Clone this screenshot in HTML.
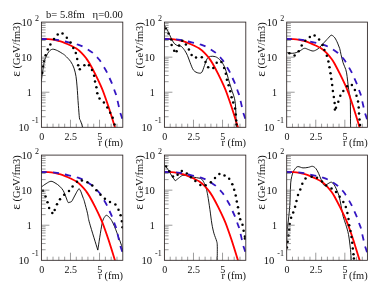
<!DOCTYPE html>
<html><head><meta charset="utf-8"><title>plot</title>
<style>
html,body{margin:0;padding:0;background:#fff;}
body{width:375px;height:294px;overflow:hidden;}
svg{display:block;will-change:transform;}
text{font-family:"Liberation Serif",serif;fill:#111;}
.t{font-size:10px;}
.e{font-size:8px;}
.l{font-size:10.4px;}
.h{font-size:10.2px;}
</style></head><body>
<svg width="375" height="294" viewBox="0 0 375 294">
<rect width="375" height="294" fill="#fff"/>
<text x="46.1" y="17.7" class="h" style="font-size:10.5px">b= 5.8fm</text>
<text x="92.6" y="17.7" class="h" style="font-size:10.7px">η=0.00</text>
<g transform="translate(0.0,0.0)">
<clipPath id="c0"><rect x="41.4" y="22.1" width="81.4" height="105.2"/></clipPath>
<g clip-path="url(#c0)">
<path d="M41.4,81.0 C41.5,79.8 41.9,76.5 42.3,74.0 C42.6,71.5 43.1,68.3 43.5,66.0 C43.9,63.6 44.2,61.6 44.7,59.9 C45.2,58.2 45.9,57.0 46.6,55.6 C47.3,54.2 48.0,52.6 49.0,51.5 C50.0,50.4 51.3,49.3 52.7,49.2 C54.1,49.1 56.0,50.0 57.6,50.7 C59.2,51.4 61.2,52.8 62.5,53.6 C63.8,54.4 63.9,54.3 65.2,55.6 C66.5,56.9 69.1,59.3 70.6,61.4 C72.1,63.5 73.1,65.7 74.0,68.2 C74.9,70.7 75.5,73.5 76.0,76.4 C76.5,79.4 76.7,82.7 77.0,85.9 C77.3,89.1 77.5,92.1 77.7,95.4 C77.9,98.7 78.1,101.9 78.4,105.6 C78.7,109.3 79.1,115.3 79.4,117.8 C79.7,120.3 79.8,118.9 80.4,120.5 C81.0,122.1 82.4,126.2 82.8,127.3" fill="none" stroke="#000" stroke-width="0.9" stroke-linejoin="round"/>
<path d="M41.4,39.0 C42.5,39.0 46.1,39.0 48.2,39.1 C50.4,39.2 52.4,39.5 54.3,39.9 C56.2,40.2 57.9,40.7 59.7,41.2 C61.5,41.7 63.4,42.4 65.2,43.1 C67.0,43.8 68.8,44.6 70.6,45.5 C72.4,46.4 74.2,47.1 76.0,48.3 C77.8,49.5 79.8,51.1 81.5,52.8 C83.2,54.5 84.9,56.5 86.2,58.3 C87.5,60.1 88.1,60.9 89.6,63.5 C91.1,66.1 93.2,70.1 95.0,73.7 C96.8,77.3 99.0,81.9 100.5,85.2 C102.0,88.5 102.7,90.2 104.0,93.8 C105.3,97.4 106.8,101.5 108.6,107.0 C110.4,112.5 113.5,122.6 114.7,126.6 C115.9,130.6 115.8,130.3 116.0,131.0" fill="none" stroke="#f00" stroke-width="1.85"/>
<path d="M41.5,39.0 C43.8,39.1 51.1,39.2 55.0,39.6 C58.9,40.0 62.2,40.9 65.0,41.5 C67.8,42.1 69.9,42.5 72.0,43.0 C74.1,43.5 75.6,43.9 77.4,44.5 C79.2,45.1 81.1,45.7 82.8,46.5 C84.5,47.3 85.8,48.1 87.5,49.2 C89.2,50.3 91.5,51.8 93.0,53.0 C94.5,54.2 95.3,55.2 96.4,56.4 C97.5,57.6 98.5,58.5 99.8,60.3 C101.0,62.1 102.7,64.9 103.9,67.0 C105.2,69.1 106.4,71.2 107.3,73.0 C108.2,74.8 108.5,75.7 109.3,77.6 C110.2,79.5 111.5,82.3 112.4,84.5 C113.3,86.7 113.9,88.8 114.5,90.5 C115.1,92.2 115.6,93.2 116.1,94.7 C116.5,96.2 116.8,97.6 117.2,99.5 C117.7,101.4 118.3,104.1 118.8,106.3 C119.3,108.5 119.6,110.4 120.2,112.4 C120.8,114.4 121.7,116.6 122.2,118.5 C122.8,120.4 123.3,123.1 123.5,124.0" fill="none" stroke="#3416c2" stroke-width="1.8" stroke-dasharray="6.1 6.1" stroke-dashoffset="0.8"/>
<circle cx="42.3" cy="72.8" r="1.25" fill="#000"/>
<circle cx="43.1" cy="66.6" r="1.25" fill="#000"/>
<circle cx="44.1" cy="61.0" r="1.25" fill="#000"/>
<circle cx="45.6" cy="55.2" r="1.25" fill="#000"/>
<circle cx="47.8" cy="49.5" r="1.25" fill="#000"/>
<circle cx="50.4" cy="44.4" r="1.25" fill="#000"/>
<circle cx="54.0" cy="39.0" r="1.25" fill="#000"/>
<circle cx="57.7" cy="34.5" r="1.25" fill="#000"/>
<circle cx="62.5" cy="33.6" r="1.25" fill="#000"/>
<circle cx="66.8" cy="37.7" r="1.25" fill="#000"/>
<circle cx="70.6" cy="42.4" r="1.25" fill="#000"/>
<circle cx="73.3" cy="47.9" r="1.25" fill="#000"/>
<circle cx="75.8" cy="53.0" r="1.25" fill="#000"/>
<circle cx="77.2" cy="58.9" r="1.25" fill="#000"/>
<circle cx="78.2" cy="65.2" r="1.25" fill="#000"/>
<circle cx="79.8" cy="69.2" r="1.25" fill="#000"/>
<circle cx="84.4" cy="65.2" r="1.25" fill="#000"/>
<circle cx="88.9" cy="65.2" r="1.25" fill="#000"/>
<circle cx="92.0" cy="70.0" r="1.25" fill="#000"/>
<circle cx="94.1" cy="75.7" r="1.25" fill="#000"/>
<circle cx="95.0" cy="81.4" r="1.25" fill="#000"/>
<circle cx="96.4" cy="87.3" r="1.25" fill="#000"/>
<circle cx="97.3" cy="93.3" r="1.25" fill="#000"/>
<circle cx="99.5" cy="98.4" r="1.25" fill="#000"/>
<circle cx="103.9" cy="102.6" r="1.25" fill="#000"/>
<circle cx="107.3" cy="107.6" r="1.25" fill="#000"/>
<circle cx="110.2" cy="112.7" r="1.25" fill="#000"/>
<circle cx="112.7" cy="117.8" r="1.25" fill="#000"/>
<circle cx="114.5" cy="124.6" r="1.25" fill="#000"/>
</g>
<path d="M41.4,116.74h4.2 M41.4,110.57h4.2 M41.4,106.19h4.2 M41.4,102.79h4.2 M41.4,100.01h4.2 M41.4,97.67h4.2 M41.4,95.63h4.2 M41.4,93.84h4.2 M41.4,92.23h8.0 M41.4,81.68h4.2 M41.4,75.50h4.2 M41.4,71.12h4.2 M41.4,67.72h4.2 M41.4,64.95h4.2 M41.4,62.60h4.2 M41.4,60.56h4.2 M41.4,58.77h4.2 M41.4,57.17h8.0 M41.4,46.61h4.2 M41.4,40.44h4.2 M41.4,36.05h4.2 M41.4,32.66h4.2 M41.4,29.88h4.2 M41.4,27.53h4.2 M41.4,25.50h4.2 M41.4,23.70h4.2 M47.21,127.3v-3.6 M53.03,127.3v-3.6 M58.84,127.3v-3.6 M64.66,127.3v-3.6 M70.47,127.3v-7.6 M76.29,127.3v-3.6 M82.10,127.3v-3.6 M87.91,127.3v-3.6 M93.73,127.3v-3.6 M99.54,127.3v-7.6 M105.36,127.3v-3.6 M111.17,127.3v-3.6 M116.99,127.3v-3.6" stroke="#666" stroke-width="0.65" fill="none"/>
<rect x="41.4" y="22.1"  width="81.4" height="105.2" fill="none" stroke="#2a2222" stroke-width="0.85"/>
<text x="21.4" y="26.1" textLength="10.7" lengthAdjust="spacingAndGlyphs" class="t">10</text>
<text x="35.0" y="20.8" class="e">2</text>
<text x="21.2" y="61.0" textLength="10.7" lengthAdjust="spacingAndGlyphs" class="t">10</text>
<text x="31.7" y="95.7" text-anchor="end" class="t">1</text>
<text x="18.4" y="131.3" textLength="10.7" lengthAdjust="spacingAndGlyphs" class="t">10</text>
<text x="32.0" y="123.0" class="e">-1</text>
<text x="41.8" y="139.7" text-anchor="middle" class="t">0</text>
<text x="70.8" y="139.7" text-anchor="middle" class="t">2.5</text>
<text x="99.7" y="139.5" text-anchor="middle" class="t">5</text>
<text x="123.0" y="145.9" text-anchor="end" class="l">r (fm)</text>
<text transform="translate(19.6,22.3) rotate(-90)" text-anchor="end" class="l"><tspan font-size="13.5">ε</tspan> (GeV/fm3)</text>
</g><g transform="translate(123.0,0.0)">
<clipPath id="c1"><rect x="41.4" y="22.1" width="81.4" height="105.2"/></clipPath>
<g clip-path="url(#c1)">
<path d="M41.4,25.4 C41.9,26.1 43.3,28.0 44.1,29.5 C44.9,31.0 45.6,32.6 46.4,34.3 C47.2,36.0 48.0,38.1 48.9,39.7 C49.8,41.3 50.6,42.8 51.6,43.8 C52.6,44.8 53.9,45.3 55.0,45.8 C56.1,46.2 57.3,45.7 58.4,46.5 C59.5,47.3 60.8,49.1 61.8,50.6 C62.8,52.1 63.6,53.6 64.5,55.6 C65.4,57.6 66.2,60.3 67.2,62.8 C68.2,65.2 69.2,68.6 70.6,70.3 C72.0,72.0 74.0,72.7 75.4,73.0 C76.8,73.3 77.8,73.5 78.8,72.3 C79.8,71.0 80.6,67.8 81.5,65.5 C82.4,63.2 83.2,60.2 84.2,58.7 C85.2,57.2 86.1,56.7 87.5,56.4 C88.9,56.1 90.8,56.2 92.3,56.7 C93.8,57.2 95.0,58.0 96.4,59.4 C97.8,60.8 99.2,62.4 100.5,64.8 C101.8,67.2 102.9,70.6 103.9,73.7 C104.9,76.8 105.7,80.2 106.6,83.2 C107.5,86.2 108.5,89.0 109.3,91.6 C110.1,94.2 111.0,96.0 111.6,98.8 C112.2,101.6 112.5,104.9 112.7,108.3 C112.9,111.7 112.9,116.1 113.0,119.2 C113.1,122.3 113.3,125.7 113.4,127.0" fill="none" stroke="#000" stroke-width="0.9" stroke-linejoin="round"/>
<path d="M41.4,39.0 C42.5,39.0 46.1,39.0 48.2,39.1 C50.4,39.2 52.4,39.5 54.3,39.9 C56.2,40.2 57.9,40.7 59.7,41.2 C61.5,41.7 63.4,42.4 65.2,43.1 C67.0,43.8 68.8,44.6 70.6,45.5 C72.4,46.4 74.2,47.1 76.0,48.3 C77.8,49.5 79.8,51.1 81.5,52.8 C83.2,54.5 84.9,56.5 86.2,58.3 C87.5,60.1 88.1,60.9 89.6,63.5 C91.1,66.1 93.2,70.1 95.0,73.7 C96.8,77.3 99.0,81.9 100.5,85.2 C102.0,88.5 102.7,90.2 104.0,93.8 C105.3,97.4 106.8,101.5 108.6,107.0 C110.4,112.5 113.5,122.6 114.7,126.6 C115.9,130.6 115.8,130.3 116.0,131.0" fill="none" stroke="#f00" stroke-width="1.85"/>
<path d="M41.5,39.0 C43.8,39.1 51.1,39.2 55.0,39.6 C58.9,40.0 62.2,40.9 65.0,41.5 C67.8,42.1 69.9,42.5 72.0,43.0 C74.1,43.5 75.6,43.9 77.4,44.5 C79.2,45.1 81.1,45.7 82.8,46.5 C84.5,47.3 85.8,48.1 87.5,49.2 C89.2,50.3 91.5,51.8 93.0,53.0 C94.5,54.2 95.3,55.2 96.4,56.4 C97.5,57.6 98.5,58.5 99.8,60.3 C101.0,62.1 102.7,64.9 103.9,67.0 C105.2,69.1 106.4,71.2 107.3,73.0 C108.2,74.8 108.5,75.7 109.3,77.6 C110.2,79.5 111.5,82.3 112.4,84.5 C113.3,86.7 113.9,88.8 114.5,90.5 C115.1,92.2 115.6,93.2 116.1,94.7 C116.5,96.2 116.8,97.6 117.2,99.5 C117.7,101.4 118.3,104.1 118.8,106.3 C119.3,108.5 119.6,110.4 120.2,112.4 C120.8,114.4 121.7,116.6 122.2,118.5 C122.8,120.4 123.3,123.1 123.5,124.0" fill="none" stroke="#3416c2" stroke-width="1.8" stroke-dasharray="6.1 6.1" stroke-dashoffset="0.8"/>
<circle cx="42.8" cy="28.4" r="1.25" fill="#000"/>
<circle cx="45.5" cy="33.6" r="1.25" fill="#000"/>
<circle cx="48.2" cy="39.4" r="1.25" fill="#000"/>
<circle cx="48.6" cy="45.1" r="1.25" fill="#000"/>
<circle cx="51.2" cy="50.8" r="1.25" fill="#000"/>
<circle cx="53.6" cy="51.3" r="1.25" fill="#000"/>
<circle cx="56.1" cy="45.5" r="1.25" fill="#000"/>
<circle cx="59.3" cy="40.7" r="1.25" fill="#000"/>
<circle cx="62.9" cy="44.5" r="1.25" fill="#000"/>
<circle cx="65.9" cy="49.5" r="1.25" fill="#000"/>
<circle cx="68.6" cy="55.1" r="1.25" fill="#000"/>
<circle cx="73.0" cy="57.5" r="1.25" fill="#000"/>
<circle cx="78.8" cy="57.2" r="1.25" fill="#000"/>
<circle cx="82.5" cy="62.1" r="1.25" fill="#000"/>
<circle cx="85.2" cy="67.3" r="1.25" fill="#000"/>
<circle cx="90.3" cy="68.0" r="1.25" fill="#000"/>
<circle cx="93.7" cy="62.8" r="1.25" fill="#000"/>
<circle cx="98.4" cy="62.1" r="1.25" fill="#000"/>
<circle cx="101.1" cy="68.0" r="1.25" fill="#000"/>
<circle cx="102.8" cy="73.7" r="1.25" fill="#000"/>
<circle cx="103.9" cy="79.8" r="1.25" fill="#000"/>
<circle cx="105.6" cy="85.2" r="1.25" fill="#000"/>
<circle cx="107.3" cy="91.3" r="1.25" fill="#000"/>
<circle cx="108.6" cy="97.2" r="1.25" fill="#000"/>
<circle cx="110.2" cy="102.6" r="1.25" fill="#000"/>
<circle cx="112.0" cy="108.6" r="1.25" fill="#000"/>
<circle cx="112.7" cy="114.4" r="1.25" fill="#000"/>
<circle cx="113.2" cy="120.5" r="1.25" fill="#000"/>
<circle cx="113.5" cy="124.6" r="1.25" fill="#000"/>
</g>
<path d="M41.4,116.74h4.2 M41.4,110.57h4.2 M41.4,106.19h4.2 M41.4,102.79h4.2 M41.4,100.01h4.2 M41.4,97.67h4.2 M41.4,95.63h4.2 M41.4,93.84h4.2 M41.4,92.23h8.0 M41.4,81.68h4.2 M41.4,75.50h4.2 M41.4,71.12h4.2 M41.4,67.72h4.2 M41.4,64.95h4.2 M41.4,62.60h4.2 M41.4,60.56h4.2 M41.4,58.77h4.2 M41.4,57.17h8.0 M41.4,46.61h4.2 M41.4,40.44h4.2 M41.4,36.05h4.2 M41.4,32.66h4.2 M41.4,29.88h4.2 M41.4,27.53h4.2 M41.4,25.50h4.2 M41.4,23.70h4.2 M47.21,127.3v-3.6 M53.03,127.3v-3.6 M58.84,127.3v-3.6 M64.66,127.3v-3.6 M70.47,127.3v-7.6 M76.29,127.3v-3.6 M82.10,127.3v-3.6 M87.91,127.3v-3.6 M93.73,127.3v-3.6 M99.54,127.3v-7.6 M105.36,127.3v-3.6 M111.17,127.3v-3.6 M116.99,127.3v-3.6" stroke="#666" stroke-width="0.65" fill="none"/>
<rect x="41.4" y="22.1"  width="81.4" height="105.2" fill="none" stroke="#2a2222" stroke-width="0.85"/>
<text x="21.4" y="26.1" textLength="10.7" lengthAdjust="spacingAndGlyphs" class="t">10</text>
<text x="35.0" y="20.8" class="e">2</text>
<text x="21.2" y="61.0" textLength="10.7" lengthAdjust="spacingAndGlyphs" class="t">10</text>
<text x="31.7" y="95.7" text-anchor="end" class="t">1</text>
<text x="18.4" y="131.3" textLength="10.7" lengthAdjust="spacingAndGlyphs" class="t">10</text>
<text x="32.0" y="123.0" class="e">-1</text>
<text x="41.8" y="139.7" text-anchor="middle" class="t">0</text>
<text x="70.8" y="139.7" text-anchor="middle" class="t">2.5</text>
<text x="99.7" y="139.5" text-anchor="middle" class="t">5</text>
<text x="123.0" y="145.9" text-anchor="end" class="l">r (fm)</text>
<text transform="translate(19.6,22.3) rotate(-90)" text-anchor="end" class="l"><tspan font-size="13.5">ε</tspan> (GeV/fm3)</text>
</g><g transform="translate(245.3,0.0)">
<clipPath id="c2"><rect x="41.4" y="22.1" width="80.7" height="105.2"/></clipPath>
<g clip-path="url(#c2)">
<path d="M41.4,52.6 C42.3,52.7 45.3,53.3 46.9,53.3 C48.5,53.3 49.5,53.0 50.9,52.6 C52.2,52.2 53.6,51.3 55.0,50.6 C56.4,49.9 57.7,48.5 59.1,48.3 C60.5,48.1 61.7,49.1 63.2,49.6 C64.7,50.1 66.3,51.1 67.9,51.0 C69.5,50.9 71.2,49.8 72.7,48.8 C74.2,47.8 75.2,46.3 76.7,44.8 C78.2,43.3 80.0,41.2 81.5,39.6 C83.0,38.0 85.0,35.9 85.7,35.1" fill="none" stroke="#000" stroke-width="0.9" stroke-linejoin="round"/>
<path d="M85.7,35.1 C85.9,35.2 86.5,35.1 87.2,35.6 C87.8,36.1 88.7,36.6 89.6,37.9 C90.4,39.1 91.5,41.3 92.3,43.1 C93.1,44.9 93.8,46.6 94.4,48.5 C95.0,50.4 95.1,52.1 95.7,54.5 C96.3,56.9 97.0,60.3 97.8,62.8 C98.6,65.3 99.8,67.3 100.5,69.6 C101.2,71.9 101.4,73.7 101.8,76.4 C102.2,79.1 102.5,83.2 102.9,85.9 C103.2,88.6 103.5,90.2 103.9,92.5 C104.2,94.8 104.8,94.2 105.0,100.0 C105.2,105.8 105.2,122.8 105.2,127.3" fill="none" stroke="#000" stroke-width="0.9" stroke-linejoin="round"/>
<path d="M41.4,39.0 C42.5,39.0 46.0,39.0 48.1,39.1 C50.3,39.2 52.3,39.5 54.2,39.9 C56.1,40.2 57.7,40.7 59.5,41.2 C61.3,41.7 63.2,42.4 65.0,43.1 C66.8,43.8 68.6,44.6 70.3,45.5 C72.1,46.4 73.9,47.1 75.7,48.3 C77.5,49.5 79.5,51.1 81.2,52.8 C82.8,54.5 84.5,56.5 85.8,58.3 C87.2,60.1 87.7,60.9 89.2,63.5 C90.6,66.1 92.7,70.1 94.5,73.7 C96.3,77.3 98.5,81.9 100.0,85.2 C101.5,88.5 102.1,90.2 103.5,93.8 C104.8,97.4 106.3,101.5 108.0,107.0 C109.8,112.5 112.8,122.6 114.1,126.6 C115.3,130.6 115.1,130.3 115.4,131.0" fill="none" stroke="#f00" stroke-width="1.85"/>
<path d="M41.5,39.0 C43.7,39.1 51.0,39.2 54.9,39.6 C58.8,40.0 62.0,40.9 64.8,41.5 C67.6,42.1 69.7,42.5 71.7,43.0 C73.8,43.5 75.3,43.9 77.1,44.5 C78.9,45.1 80.8,45.7 82.4,46.5 C84.1,47.3 85.4,48.1 87.1,49.2 C88.8,50.3 91.1,51.8 92.6,53.0 C94.0,54.2 94.8,55.2 95.9,56.4 C97.1,57.6 98.1,58.5 99.3,60.3 C100.5,62.1 102.1,64.9 103.4,67.0 C104.6,69.1 105.8,71.2 106.7,73.0 C107.6,74.8 107.9,75.7 108.7,77.6 C109.6,79.5 110.9,82.3 111.8,84.5 C112.6,86.7 113.3,88.8 113.9,90.5 C114.5,92.2 115.0,93.2 115.5,94.7 C115.9,96.2 116.1,97.6 116.5,99.5 C117.0,101.4 117.6,104.1 118.1,106.3 C118.6,108.5 119.0,110.4 119.5,112.4 C120.1,114.4 121.0,116.6 121.5,118.5 C122.1,120.4 122.6,123.1 122.8,124.0" fill="none" stroke="#3416c2" stroke-width="1.8" stroke-dasharray="6.1 6.1" stroke-dashoffset="0.8"/>
<circle cx="44.1" cy="53.3" r="1.25" fill="#000"/>
<circle cx="49.3" cy="55.6" r="1.25" fill="#000"/>
<circle cx="53.4" cy="51.3" r="1.25" fill="#000"/>
<circle cx="56.4" cy="45.5" r="1.25" fill="#000"/>
<circle cx="60.0" cy="40.8" r="1.25" fill="#000"/>
<circle cx="64.5" cy="37.0" r="1.25" fill="#000"/>
<circle cx="69.3" cy="35.4" r="1.25" fill="#000"/>
<circle cx="73.8" cy="39.4" r="1.25" fill="#000"/>
<circle cx="77.2" cy="44.9" r="1.25" fill="#000"/>
<circle cx="79.1" cy="49.9" r="1.25" fill="#000"/>
<circle cx="81.5" cy="55.8" r="1.25" fill="#000"/>
<circle cx="83.1" cy="61.4" r="1.25" fill="#000"/>
<circle cx="84.2" cy="67.3" r="1.25" fill="#000"/>
<circle cx="85.2" cy="73.3" r="1.25" fill="#000"/>
<circle cx="86.1" cy="79.1" r="1.25" fill="#000"/>
<circle cx="86.9" cy="84.9" r="1.25" fill="#000"/>
<circle cx="87.6" cy="91.0" r="1.25" fill="#000"/>
<circle cx="88.5" cy="97.0" r="1.25" fill="#000"/>
<circle cx="89.3" cy="102.9" r="1.25" fill="#000"/>
<circle cx="89.6" cy="109.4" r="1.25" fill="#000"/>
<circle cx="90.7" cy="107.8" r="1.25" fill="#000"/>
<circle cx="93.0" cy="101.8" r="1.25" fill="#000"/>
<circle cx="95.0" cy="95.8" r="1.25" fill="#000"/>
<circle cx="98.0" cy="91.0" r="1.25" fill="#000"/>
<circle cx="101.8" cy="86.2" r="1.25" fill="#000"/>
<circle cx="106.6" cy="84.9" r="1.25" fill="#000"/>
<circle cx="109.6" cy="90.0" r="1.25" fill="#000"/>
<circle cx="111.2" cy="95.8" r="1.25" fill="#000"/>
<circle cx="112.7" cy="101.5" r="1.25" fill="#000"/>
<circle cx="113.4" cy="107.6" r="1.25" fill="#000"/>
<circle cx="113.7" cy="113.5" r="1.25" fill="#000"/>
<circle cx="114.2" cy="119.6" r="1.25" fill="#000"/>
<circle cx="114.7" cy="125.0" r="1.25" fill="#000"/>
</g>
<path d="M41.4,116.74h4.2 M41.4,110.57h4.2 M41.4,106.19h4.2 M41.4,102.79h4.2 M41.4,100.01h4.2 M41.4,97.67h4.2 M41.4,95.63h4.2 M41.4,93.84h4.2 M41.4,92.23h8.0 M41.4,81.68h4.2 M41.4,75.50h4.2 M41.4,71.12h4.2 M41.4,67.72h4.2 M41.4,64.95h4.2 M41.4,62.60h4.2 M41.4,60.56h4.2 M41.4,58.77h4.2 M41.4,57.17h8.0 M41.4,46.61h4.2 M41.4,40.44h4.2 M41.4,36.05h4.2 M41.4,32.66h4.2 M41.4,29.88h4.2 M41.4,27.53h4.2 M41.4,25.50h4.2 M41.4,23.70h4.2 M47.21,127.3v-3.6 M53.03,127.3v-3.6 M58.84,127.3v-3.6 M64.66,127.3v-3.6 M70.47,127.3v-7.6 M76.29,127.3v-3.6 M82.10,127.3v-3.6 M87.91,127.3v-3.6 M93.73,127.3v-3.6 M99.54,127.3v-7.6 M105.36,127.3v-3.6 M111.17,127.3v-3.6 M116.99,127.3v-3.6" stroke="#666" stroke-width="0.65" fill="none"/>
<rect x="41.4" y="22.1"  width="80.7" height="105.2" fill="none" stroke="#2a2222" stroke-width="0.85"/>
<text x="21.4" y="26.1" textLength="10.7" lengthAdjust="spacingAndGlyphs" class="t">10</text>
<text x="35.0" y="20.8" class="e">2</text>
<text x="21.2" y="61.0" textLength="10.7" lengthAdjust="spacingAndGlyphs" class="t">10</text>
<text x="31.7" y="95.7" text-anchor="end" class="t">1</text>
<text x="18.4" y="131.3" textLength="10.7" lengthAdjust="spacingAndGlyphs" class="t">10</text>
<text x="32.0" y="123.0" class="e">-1</text>
<text x="41.8" y="139.7" text-anchor="middle" class="t">0</text>
<text x="70.8" y="139.7" text-anchor="middle" class="t">2.5</text>
<text x="99.7" y="139.5" text-anchor="middle" class="t">5</text>
<text x="122.3" y="145.9" text-anchor="end" class="l">r (fm)</text>
<text transform="translate(19.6,22.3) rotate(-90)" text-anchor="end" class="l"><tspan font-size="13.5">ε</tspan> (GeV/fm3)</text>
</g><g transform="translate(0.0,133.0)">
<clipPath id="c3"><rect x="41.4" y="22.1" width="81.4" height="105.2"/></clipPath>
<g clip-path="url(#c3)">
<path d="M41.4,54.0 C42.2,53.4 44.6,51.5 46.2,50.6 C47.8,49.6 49.4,48.4 50.9,48.3 C52.4,48.2 53.5,49.1 55.0,49.9 C56.5,50.7 58.4,52.1 59.7,53.3 C61.1,54.6 62.2,55.9 63.1,57.4 C64.0,58.9 64.5,60.4 65.2,62.1 C65.9,63.8 66.7,66.2 67.2,67.5 C67.7,68.8 68.1,69.3 68.3,69.7" fill="none" stroke="#000" stroke-width="0.9" stroke-linejoin="round"/>
<path d="M68.3,69.7 C68.6,69.6 69.4,69.4 69.9,69.2 C70.5,69.0 71.1,69.0 71.6,68.5 C72.1,68.0 72.6,66.8 73.1,65.9 C73.6,65.0 74.1,64.0 74.6,63.0 C75.1,62.0 75.8,60.8 76.3,59.8 C76.8,58.8 77.4,57.8 77.9,57.1 C78.4,56.4 78.9,55.8 79.1,55.6" fill="none" stroke="#000" stroke-width="0.9" stroke-linejoin="round"/>
<path d="M79.1,55.6 C79.4,56.0 80.2,57.1 80.7,58.2 C81.2,59.3 81.7,60.8 82.1,62.0 C82.5,63.2 82.9,64.2 83.3,65.3 C83.7,66.4 83.8,66.2 84.5,68.8 C85.2,71.4 86.8,77.2 87.6,80.8 C88.4,84.4 87.9,84.1 89.6,90.2 C91.3,96.2 96.4,112.6 97.8,117.1" fill="none" stroke="#000" stroke-width="0.9" stroke-linejoin="round"/>
<path d="M97.8,117.1 C98.5,112.7 100.9,96.2 102.1,90.5 C103.3,84.8 104.4,84.5 105.2,83.2 C106.0,81.9 106.2,82.2 107.0,82.5 C107.8,82.8 108.9,83.8 110.0,85.2 C111.1,86.6 112.1,88.0 113.4,91.0 C114.8,94.0 116.8,99.3 118.1,102.9 C119.4,106.5 120.7,109.7 121.5,112.4 C122.3,115.1 122.7,118.1 122.9,119.2" fill="none" stroke="#000" stroke-width="0.9" stroke-linejoin="round"/>
<path d="M41.4,39.0 C42.5,39.0 46.1,39.0 48.2,39.1 C50.4,39.2 52.4,39.5 54.3,39.9 C56.2,40.2 57.9,40.7 59.7,41.2 C61.5,41.7 63.4,42.4 65.2,43.1 C67.0,43.8 68.8,44.6 70.6,45.5 C72.4,46.4 74.2,47.1 76.0,48.3 C77.8,49.5 79.8,51.1 81.5,52.8 C83.2,54.5 84.9,56.5 86.2,58.3 C87.5,60.1 88.1,60.9 89.6,63.5 C91.1,66.1 93.2,70.1 95.0,73.7 C96.8,77.3 99.0,81.9 100.5,85.2 C102.0,88.5 102.7,90.2 104.0,93.8 C105.3,97.4 106.8,101.5 108.6,107.0 C110.4,112.5 113.5,122.6 114.7,126.6 C115.9,130.6 115.8,130.3 116.0,131.0" fill="none" stroke="#f00" stroke-width="1.85"/>
<path d="M41.5,39.0 C43.8,39.1 51.1,39.2 55.0,39.6 C58.9,40.0 62.2,40.9 65.0,41.5 C67.8,42.1 69.9,42.5 72.0,43.0 C74.1,43.5 75.6,43.9 77.4,44.5 C79.2,45.1 81.1,45.7 82.8,46.5 C84.5,47.3 85.8,48.1 87.5,49.2 C89.2,50.3 91.5,51.8 93.0,53.0 C94.5,54.2 95.3,55.2 96.4,56.4 C97.5,57.6 98.5,58.5 99.8,60.3 C101.0,62.1 102.7,64.9 103.9,67.0 C105.2,69.1 106.4,71.2 107.3,73.0 C108.2,74.8 108.5,75.7 109.3,77.6 C110.2,79.5 111.5,82.3 112.4,84.5 C113.3,86.7 113.9,88.8 114.5,90.5 C115.1,92.2 115.6,93.2 116.1,94.7 C116.5,96.2 116.8,97.6 117.2,99.5 C117.7,101.4 118.3,104.1 118.8,106.3 C119.3,108.5 119.6,110.4 120.2,112.4 C120.8,114.4 121.7,116.6 122.2,118.5 C122.8,120.4 123.3,123.1 123.5,124.0" fill="none" stroke="#3416c2" stroke-width="1.8" stroke-dasharray="6.1 6.1" stroke-dashoffset="0.8"/>
<circle cx="43.0" cy="57.7" r="1.25" fill="#000"/>
<circle cx="45.5" cy="63.5" r="1.25" fill="#000"/>
<circle cx="47.5" cy="69.2" r="1.25" fill="#000"/>
<circle cx="49.1" cy="75.0" r="1.25" fill="#000"/>
<circle cx="52.3" cy="80.0" r="1.25" fill="#000"/>
<circle cx="54.7" cy="77.1" r="1.25" fill="#000"/>
<circle cx="57.0" cy="71.2" r="1.25" fill="#000"/>
<circle cx="60.0" cy="66.2" r="1.25" fill="#000"/>
<circle cx="64.2" cy="61.7" r="1.25" fill="#000"/>
<circle cx="69.0" cy="58.0" r="1.25" fill="#000"/>
<circle cx="72.6" cy="53.6" r="1.25" fill="#000"/>
<circle cx="77.0" cy="48.8" r="1.25" fill="#000"/>
<circle cx="81.9" cy="47.6" r="1.25" fill="#000"/>
<circle cx="87.4" cy="49.2" r="1.25" fill="#000"/>
<circle cx="92.3" cy="52.6" r="1.25" fill="#000"/>
<circle cx="96.4" cy="57.3" r="1.25" fill="#000"/>
<circle cx="100.5" cy="61.7" r="1.25" fill="#000"/>
<circle cx="104.9" cy="65.8" r="1.25" fill="#000"/>
<circle cx="110.0" cy="68.9" r="1.25" fill="#000"/>
<circle cx="115.4" cy="71.6" r="1.25" fill="#000"/>
<circle cx="118.5" cy="76.7" r="1.25" fill="#000"/>
<circle cx="120.6" cy="82.2" r="1.25" fill="#000"/>
<circle cx="121.8" cy="88.2" r="1.25" fill="#000"/>
<circle cx="122.5" cy="94.2" r="1.25" fill="#000"/>
</g>
<path d="M41.4,116.74h4.2 M41.4,110.57h4.2 M41.4,106.19h4.2 M41.4,102.79h4.2 M41.4,100.01h4.2 M41.4,97.67h4.2 M41.4,95.63h4.2 M41.4,93.84h4.2 M41.4,92.23h8.0 M41.4,81.68h4.2 M41.4,75.50h4.2 M41.4,71.12h4.2 M41.4,67.72h4.2 M41.4,64.95h4.2 M41.4,62.60h4.2 M41.4,60.56h4.2 M41.4,58.77h4.2 M41.4,57.17h8.0 M41.4,46.61h4.2 M41.4,40.44h4.2 M41.4,36.05h4.2 M41.4,32.66h4.2 M41.4,29.88h4.2 M41.4,27.53h4.2 M41.4,25.50h4.2 M41.4,23.70h4.2 M47.21,127.3v-3.6 M53.03,127.3v-3.6 M58.84,127.3v-3.6 M64.66,127.3v-3.6 M70.47,127.3v-7.6 M76.29,127.3v-3.6 M82.10,127.3v-3.6 M87.91,127.3v-3.6 M93.73,127.3v-3.6 M99.54,127.3v-7.6 M105.36,127.3v-3.6 M111.17,127.3v-3.6 M116.99,127.3v-3.6" stroke="#666" stroke-width="0.65" fill="none"/>
<rect x="41.4" y="22.1"  width="81.4" height="105.2" fill="none" stroke="#2a2222" stroke-width="0.85"/>
<text x="21.4" y="26.1" textLength="10.7" lengthAdjust="spacingAndGlyphs" class="t">10</text>
<text x="35.0" y="20.8" class="e">2</text>
<text x="21.2" y="61.0" textLength="10.7" lengthAdjust="spacingAndGlyphs" class="t">10</text>
<text x="31.7" y="95.7" text-anchor="end" class="t">1</text>
<text x="18.4" y="131.3" textLength="10.7" lengthAdjust="spacingAndGlyphs" class="t">10</text>
<text x="32.0" y="123.0" class="e">-1</text>
<text x="41.8" y="139.7" text-anchor="middle" class="t">0</text>
<text x="70.8" y="139.7" text-anchor="middle" class="t">2.5</text>
<text x="99.7" y="139.5" text-anchor="middle" class="t">5</text>
<text x="123.0" y="145.9" text-anchor="end" class="l">r (fm)</text>
<text transform="translate(19.6,22.3) rotate(-90)" text-anchor="end" class="l"><tspan font-size="13.5">ε</tspan> (GeV/fm3)</text>
</g><g transform="translate(123.0,133.0)">
<clipPath id="c4"><rect x="41.4" y="22.1" width="81.4" height="105.2"/></clipPath>
<g clip-path="url(#c4)">
<path d="M41.4,31.5 C42.0,32.3 43.6,34.4 44.8,36.3 C46.1,38.2 47.7,41.2 48.9,43.1 C50.2,45.0 51.7,47.0 52.3,47.8" fill="none" stroke="#000" stroke-width="0.9" stroke-linejoin="round"/>
<path d="M52.3,47.8 C52.9,47.4 54.5,46.0 55.7,45.1 C56.9,44.2 58.1,42.8 59.7,42.4 C61.3,42.0 63.4,42.5 65.2,42.8 C67.0,43.1 68.8,43.8 70.6,44.2 C72.4,44.6 74.6,44.7 76.0,45.1 C77.4,45.4 77.9,45.4 78.8,46.3 C79.7,47.2 80.7,48.9 81.5,50.6 C82.3,52.3 83.0,54.5 83.5,56.5 C84.0,58.5 84.2,59.5 84.8,62.8 C85.4,66.1 86.2,71.7 86.9,76.4 C87.6,81.1 88.2,87.0 88.9,91.0 C89.6,95.0 90.1,97.3 90.9,100.2 C91.7,103.1 93.1,106.1 93.7,108.3 C94.3,110.6 94.2,110.6 94.3,113.7 C94.4,116.8 94.2,124.8 94.2,127.0" fill="none" stroke="#000" stroke-width="0.9" stroke-linejoin="round"/>
<path d="M41.4,39.0 C42.5,39.0 46.1,39.0 48.2,39.1 C50.4,39.2 52.4,39.5 54.3,39.9 C56.2,40.2 57.9,40.7 59.7,41.2 C61.5,41.7 63.4,42.4 65.2,43.1 C67.0,43.8 68.8,44.6 70.6,45.5 C72.4,46.4 74.2,47.1 76.0,48.3 C77.8,49.5 79.8,51.1 81.5,52.8 C83.2,54.5 84.9,56.5 86.2,58.3 C87.5,60.1 88.1,60.9 89.6,63.5 C91.1,66.1 93.2,70.1 95.0,73.7 C96.8,77.3 99.0,81.9 100.5,85.2 C102.0,88.5 102.7,90.2 104.0,93.8 C105.3,97.4 106.8,101.5 108.6,107.0 C110.4,112.5 113.5,122.6 114.7,126.6 C115.9,130.6 115.8,130.3 116.0,131.0" fill="none" stroke="#f00" stroke-width="1.85"/>
<path d="M41.5,39.0 C43.8,39.1 51.1,39.2 55.0,39.6 C58.9,40.0 62.2,40.9 65.0,41.5 C67.8,42.1 69.9,42.5 72.0,43.0 C74.1,43.5 75.6,43.9 77.4,44.5 C79.2,45.1 81.1,45.7 82.8,46.5 C84.5,47.3 85.8,48.1 87.5,49.2 C89.2,50.3 91.5,51.8 93.0,53.0 C94.5,54.2 95.3,55.2 96.4,56.4 C97.5,57.6 98.5,58.5 99.8,60.3 C101.0,62.1 102.7,64.9 103.9,67.0 C105.2,69.1 106.4,71.2 107.3,73.0 C108.2,74.8 108.5,75.7 109.3,77.6 C110.2,79.5 111.5,82.3 112.4,84.5 C113.3,86.7 113.9,88.8 114.5,90.5 C115.1,92.2 115.6,93.2 116.1,94.7 C116.5,96.2 116.8,97.6 117.2,99.5 C117.7,101.4 118.3,104.1 118.8,106.3 C119.3,108.5 119.6,110.4 120.2,112.4 C120.8,114.4 121.7,116.6 122.2,118.5 C122.8,120.4 123.3,123.1 123.5,124.0" fill="none" stroke="#3416c2" stroke-width="1.8" stroke-dasharray="6.1 6.1" stroke-dashoffset="0.8"/>
<circle cx="43.0" cy="33.2" r="1.25" fill="#000"/>
<circle cx="46.4" cy="38.3" r="1.25" fill="#000"/>
<circle cx="50.0" cy="43.4" r="1.25" fill="#000"/>
<circle cx="54.6" cy="41.7" r="1.25" fill="#000"/>
<circle cx="58.8" cy="37.9" r="1.25" fill="#000"/>
<circle cx="63.8" cy="40.4" r="1.25" fill="#000"/>
<circle cx="67.9" cy="44.2" r="1.25" fill="#000"/>
<circle cx="72.4" cy="48.1" r="1.25" fill="#000"/>
<circle cx="77.4" cy="51.9" r="1.25" fill="#000"/>
<circle cx="82.6" cy="52.2" r="1.25" fill="#000"/>
<circle cx="87.8" cy="49.2" r="1.25" fill="#000"/>
<circle cx="92.0" cy="44.9" r="1.25" fill="#000"/>
<circle cx="96.4" cy="41.1" r="1.25" fill="#000"/>
<circle cx="101.5" cy="42.4" r="1.25" fill="#000"/>
<circle cx="106.2" cy="45.8" r="1.25" fill="#000"/>
<circle cx="109.3" cy="51.2" r="1.25" fill="#000"/>
<circle cx="111.2" cy="56.7" r="1.25" fill="#000"/>
<circle cx="112.7" cy="62.4" r="1.25" fill="#000"/>
<circle cx="113.8" cy="68.5" r="1.25" fill="#000"/>
<circle cx="115.0" cy="74.3" r="1.25" fill="#000"/>
<circle cx="115.8" cy="80.5" r="1.25" fill="#000"/>
<circle cx="117.2" cy="86.2" r="1.25" fill="#000"/>
<circle cx="119.5" cy="91.8" r="1.25" fill="#000"/>
<circle cx="120.6" cy="97.7" r="1.25" fill="#000"/>
<circle cx="121.9" cy="103.5" r="1.25" fill="#000"/>
<circle cx="121.9" cy="105.6" r="1.25" fill="#000"/>
</g>
<path d="M41.4,116.74h4.2 M41.4,110.57h4.2 M41.4,106.19h4.2 M41.4,102.79h4.2 M41.4,100.01h4.2 M41.4,97.67h4.2 M41.4,95.63h4.2 M41.4,93.84h4.2 M41.4,92.23h8.0 M41.4,81.68h4.2 M41.4,75.50h4.2 M41.4,71.12h4.2 M41.4,67.72h4.2 M41.4,64.95h4.2 M41.4,62.60h4.2 M41.4,60.56h4.2 M41.4,58.77h4.2 M41.4,57.17h8.0 M41.4,46.61h4.2 M41.4,40.44h4.2 M41.4,36.05h4.2 M41.4,32.66h4.2 M41.4,29.88h4.2 M41.4,27.53h4.2 M41.4,25.50h4.2 M41.4,23.70h4.2 M47.21,127.3v-3.6 M53.03,127.3v-3.6 M58.84,127.3v-3.6 M64.66,127.3v-3.6 M70.47,127.3v-7.6 M76.29,127.3v-3.6 M82.10,127.3v-3.6 M87.91,127.3v-3.6 M93.73,127.3v-3.6 M99.54,127.3v-7.6 M105.36,127.3v-3.6 M111.17,127.3v-3.6 M116.99,127.3v-3.6" stroke="#666" stroke-width="0.65" fill="none"/>
<rect x="41.4" y="22.1"  width="81.4" height="105.2" fill="none" stroke="#2a2222" stroke-width="0.85"/>
<text x="21.4" y="26.1" textLength="10.7" lengthAdjust="spacingAndGlyphs" class="t">10</text>
<text x="35.0" y="20.8" class="e">2</text>
<text x="21.2" y="61.0" textLength="10.7" lengthAdjust="spacingAndGlyphs" class="t">10</text>
<text x="31.7" y="95.7" text-anchor="end" class="t">1</text>
<text x="18.4" y="131.3" textLength="10.7" lengthAdjust="spacingAndGlyphs" class="t">10</text>
<text x="32.0" y="123.0" class="e">-1</text>
<text x="41.8" y="139.7" text-anchor="middle" class="t">0</text>
<text x="70.8" y="139.7" text-anchor="middle" class="t">2.5</text>
<text x="99.7" y="139.5" text-anchor="middle" class="t">5</text>
<text x="123.0" y="145.9" text-anchor="end" class="l">r (fm)</text>
<text transform="translate(19.6,22.3) rotate(-90)" text-anchor="end" class="l"><tspan font-size="13.5">ε</tspan> (GeV/fm3)</text>
</g><g transform="translate(245.3,133.0)">
<clipPath id="c5"><rect x="41.4" y="22.1" width="80.7" height="105.2"/></clipPath>
<g clip-path="url(#c5)">
<path d="M41.3,113.0 C41.4,110.6 41.5,102.0 41.7,98.5 C41.9,95.0 42.2,94.5 42.5,92.0 C42.8,89.5 43.2,86.6 43.5,83.3 C43.8,80.0 44.3,75.8 44.5,72.4 C44.7,69.0 44.8,65.7 44.9,63.0 C45.0,60.3 45.0,58.6 45.1,56.4 C45.2,54.2 45.2,52.0 45.4,49.9 C45.6,47.8 46.0,45.4 46.4,43.6 C46.8,41.8 47.4,40.2 47.9,39.0 C48.4,37.8 48.7,37.1 49.5,36.2 C50.3,35.3 51.1,33.8 52.5,33.6 C53.9,33.4 55.9,34.8 57.7,34.9 C59.5,35.0 61.6,34.6 63.2,34.3 C64.8,34.0 66.0,33.1 67.2,33.3 C68.4,33.5 69.6,34.4 70.6,35.6 C71.6,36.8 72.4,38.5 73.3,40.4 C74.2,42.3 75.1,45.2 76.1,47.2 C77.1,49.2 78.0,52.0 79.1,52.6 C80.2,53.2 81.6,51.2 82.8,50.6 C84.0,50.0 85.2,49.0 86.2,49.2 C87.2,49.4 88.1,50.8 88.9,51.9 C89.7,53.0 90.2,54.2 91.0,56.0 C91.8,57.8 92.9,60.1 93.7,62.8 C94.5,65.5 95.0,68.9 95.7,72.3 C96.4,75.7 97.0,80.0 97.8,83.2 C98.6,86.4 99.6,88.5 100.5,91.6 C101.4,94.6 102.4,97.3 103.2,101.5 C104.0,105.7 104.7,112.2 105.2,116.5 C105.6,120.8 105.8,125.2 105.9,127.0" fill="none" stroke="#000" stroke-width="0.9" stroke-linejoin="round"/>
<path d="M41.4,39.0 C42.5,39.0 46.0,39.0 48.1,39.1 C50.3,39.2 52.3,39.5 54.2,39.9 C56.1,40.2 57.7,40.7 59.5,41.2 C61.3,41.7 63.2,42.4 65.0,43.1 C66.8,43.8 68.6,44.6 70.3,45.5 C72.1,46.4 73.9,47.1 75.7,48.3 C77.5,49.5 79.5,51.1 81.2,52.8 C82.8,54.5 84.5,56.5 85.8,58.3 C87.2,60.1 87.7,60.9 89.2,63.5 C90.6,66.1 92.7,70.1 94.5,73.7 C96.3,77.3 98.5,81.9 100.0,85.2 C101.5,88.5 102.1,90.2 103.5,93.8 C104.8,97.4 106.3,101.5 108.0,107.0 C109.8,112.5 112.8,122.6 114.1,126.6 C115.3,130.6 115.1,130.3 115.4,131.0" fill="none" stroke="#f00" stroke-width="1.85"/>
<path d="M41.5,39.0 C43.7,39.1 51.0,39.2 54.9,39.6 C58.8,40.0 62.0,40.9 64.8,41.5 C67.6,42.1 69.7,42.5 71.7,43.0 C73.8,43.5 75.3,43.9 77.1,44.5 C78.9,45.1 80.8,45.7 82.4,46.5 C84.1,47.3 85.4,48.1 87.1,49.2 C88.8,50.3 91.1,51.8 92.6,53.0 C94.0,54.2 94.8,55.2 95.9,56.4 C97.1,57.6 98.1,58.5 99.3,60.3 C100.5,62.1 102.1,64.9 103.4,67.0 C104.6,69.1 105.8,71.2 106.7,73.0 C107.6,74.8 107.9,75.7 108.7,77.6 C109.6,79.5 110.9,82.3 111.8,84.5 C112.6,86.7 113.3,88.8 113.9,90.5 C114.5,92.2 115.0,93.2 115.5,94.7 C115.9,96.2 116.1,97.6 116.5,99.5 C117.0,101.4 117.6,104.1 118.1,106.3 C118.6,108.5 119.0,110.4 119.5,112.4 C120.1,114.4 121.0,116.6 121.5,118.5 C122.1,120.4 122.6,123.1 122.8,124.0" fill="none" stroke="#3416c2" stroke-width="1.8" stroke-dasharray="6.1 6.1" stroke-dashoffset="0.8"/>
<circle cx="41.7" cy="114.4" r="1.25" fill="#000"/>
<circle cx="42.4" cy="108.7" r="1.25" fill="#000"/>
<circle cx="43.2" cy="102.6" r="1.25" fill="#000"/>
<circle cx="43.9" cy="96.8" r="1.25" fill="#000"/>
<circle cx="44.4" cy="90.9" r="1.25" fill="#000"/>
<circle cx="45.8" cy="84.8" r="1.25" fill="#000"/>
<circle cx="47.9" cy="79.4" r="1.25" fill="#000"/>
<circle cx="49.8" cy="73.7" r="1.25" fill="#000"/>
<circle cx="51.2" cy="68.0" r="1.25" fill="#000"/>
<circle cx="52.7" cy="62.1" r="1.25" fill="#000"/>
<circle cx="55.0" cy="56.4" r="1.25" fill="#000"/>
<circle cx="57.0" cy="50.8" r="1.25" fill="#000"/>
<circle cx="60.2" cy="45.4" r="1.25" fill="#000"/>
<circle cx="66.3" cy="43.8" r="1.25" fill="#000"/>
<circle cx="71.7" cy="44.7" r="1.25" fill="#000"/>
<circle cx="76.7" cy="48.5" r="1.25" fill="#000"/>
<circle cx="80.8" cy="52.6" r="1.25" fill="#000"/>
<circle cx="86.2" cy="55.6" r="1.25" fill="#000"/>
<circle cx="90.7" cy="59.0" r="1.25" fill="#000"/>
<circle cx="94.4" cy="63.7" r="1.25" fill="#000"/>
<circle cx="98.0" cy="68.9" r="1.25" fill="#000"/>
<circle cx="100.5" cy="74.1" r="1.25" fill="#000"/>
<circle cx="102.1" cy="80.0" r="1.25" fill="#000"/>
<circle cx="103.2" cy="85.9" r="1.25" fill="#000"/>
<circle cx="103.9" cy="92.3" r="1.25" fill="#000"/>
<circle cx="105.2" cy="98.1" r="1.25" fill="#000"/>
<circle cx="106.2" cy="104.0" r="1.25" fill="#000"/>
<circle cx="106.9" cy="109.7" r="1.25" fill="#000"/>
<circle cx="107.5" cy="115.4" r="1.25" fill="#000"/>
<circle cx="108.2" cy="121.2" r="1.25" fill="#000"/>
<circle cx="108.6" cy="125.5" r="1.25" fill="#000"/>
</g>
<path d="M41.4,116.74h4.2 M41.4,110.57h4.2 M41.4,106.19h4.2 M41.4,102.79h4.2 M41.4,100.01h4.2 M41.4,97.67h4.2 M41.4,95.63h4.2 M41.4,93.84h4.2 M41.4,92.23h8.0 M41.4,81.68h4.2 M41.4,75.50h4.2 M41.4,71.12h4.2 M41.4,67.72h4.2 M41.4,64.95h4.2 M41.4,62.60h4.2 M41.4,60.56h4.2 M41.4,58.77h4.2 M41.4,57.17h8.0 M41.4,46.61h4.2 M41.4,40.44h4.2 M41.4,36.05h4.2 M41.4,32.66h4.2 M41.4,29.88h4.2 M41.4,27.53h4.2 M41.4,25.50h4.2 M41.4,23.70h4.2 M47.21,127.3v-3.6 M53.03,127.3v-3.6 M58.84,127.3v-3.6 M64.66,127.3v-3.6 M70.47,127.3v-7.6 M76.29,127.3v-3.6 M82.10,127.3v-3.6 M87.91,127.3v-3.6 M93.73,127.3v-3.6 M99.54,127.3v-7.6 M105.36,127.3v-3.6 M111.17,127.3v-3.6 M116.99,127.3v-3.6" stroke="#666" stroke-width="0.65" fill="none"/>
<rect x="41.4" y="22.1"  width="80.7" height="105.2" fill="none" stroke="#2a2222" stroke-width="0.85"/>
<text x="21.4" y="26.1" textLength="10.7" lengthAdjust="spacingAndGlyphs" class="t">10</text>
<text x="35.0" y="20.8" class="e">2</text>
<text x="21.2" y="61.0" textLength="10.7" lengthAdjust="spacingAndGlyphs" class="t">10</text>
<text x="31.7" y="95.7" text-anchor="end" class="t">1</text>
<text x="18.4" y="131.3" textLength="10.7" lengthAdjust="spacingAndGlyphs" class="t">10</text>
<text x="32.0" y="123.0" class="e">-1</text>
<text x="41.8" y="139.7" text-anchor="middle" class="t">0</text>
<text x="70.8" y="139.7" text-anchor="middle" class="t">2.5</text>
<text x="99.7" y="139.5" text-anchor="middle" class="t">5</text>
<text x="122.3" y="145.9" text-anchor="end" class="l">r (fm)</text>
<text transform="translate(19.6,22.3) rotate(-90)" text-anchor="end" class="l"><tspan font-size="13.5">ε</tspan> (GeV/fm3)</text>
</g>
</svg>
</body></html>
